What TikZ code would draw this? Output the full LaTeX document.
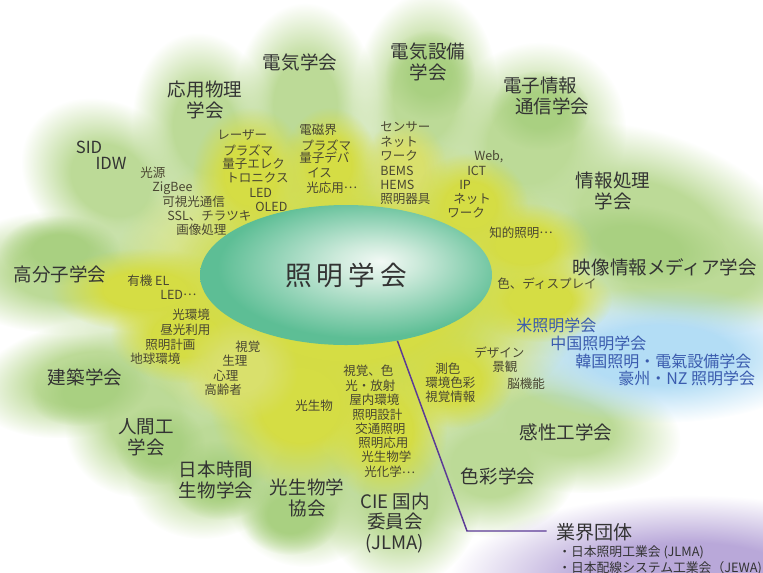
\documentclass[tikz,border=0pt]{standalone}
\usepackage{fontspec}
\setmainfont{Noto Sans CJK JP}
\usetikzlibrary{shapes.geometric,fadings}
\definecolor{cgreen}{HTML}{BCDA97}
\definecolor{cgreenb}{HTML}{A9D081}
\definecolor{cyellow}{HTML}{D5DD44}
\definecolor{cyellowb}{HTML}{D9E06C}
\definecolor{cbluebg}{HTML}{B3DDF5}
\definecolor{cpurplebg}{HTML}{B9A8D9}
\definecolor{cmain}{HTML}{333333}
\definecolor{csmall}{HTML}{4A4732}
\definecolor{cbluetext}{HTML}{3A5BAE}
\definecolor{cpline}{HTML}{5B3A96}
\definecolor{ellA}{HTML}{F2F9F5}
\definecolor{ellB}{HTML}{CDEADB}
\definecolor{ellC}{HTML}{5DBE95}
\pgfdeclareradialshading{blobfadesh}{\pgfpointorigin}{color(0bp)=(white); color(11bp)=(white); color(25bp)=(black); color(50bp)=(black)}
\pgfdeclarefading{blobfade}{\pgfuseshading{blobfadesh}}
\pgfdeclareradialshading{ellsh}{\pgfpoint{6bp}{5bp}}{color(0bp)=(ellA); color(7bp)=(ellB); color(25bp)=(ellC); color(50bp)=(ellC)}
\newcommand\blob[6]{%
  \begin{scope}[transform canvas={shift={(#1,#2)},rotate=#5}]
    \fill[#6, path fading=blobfade] (0,0) ellipse ({#3} and {#4});
  \end{scope}}
\newcommand\smlab[4]{\node[sml] (#1) at (#2,#3) {#4};}
\newcommand\mdots{\raisebox{0.3em}{…}}
\tikzset{
  big/.style={font=\fontsize{13.9}{15.5}\selectfont, text=cmain, align=center, inner sep=0pt},
  sml/.style={font=\fontsize{9.4}{11}\selectfont, text=csmall, anchor=west, inner sep=0pt},
  blu/.style={font=\fontsize{12}{14}\selectfont, text=cbluetext, anchor=west, inner sep=0pt},
  conn/.style={draw=cpline, line width=1.1pt},
}
\begin{document}
\begin{tikzpicture}[x=0.75pt,y=-0.75pt]
\useasboundingbox (0,0) rectangle (763,572);
% ---- background petals
\blob{350}{295}{270}{200}{0}{cgreen}
\blob{110}{180}{95}{75}{-35}{cgreen}
\blob{205}{130}{72}{98}{10}{cgreen}
\blob{305}{105}{72}{102}{0}{cgreen}
\blob{425}{95}{72}{104}{-5}{cgreen}
\blob{530}{140}{92}{102}{-40}{cgreen}
\blob{650}{225}{165}{92}{-20}{cgreen}
\blob{690}{275}{145}{62}{0}{cgreen}
\blob{560}{425}{122}{66}{-10}{cgreen}
\blob{490}{465}{88}{72}{0}{cgreen}
\blob{400}{495}{82}{92}{0}{cgreen}
\blob{305}{485}{82}{82}{0}{cgreen}
\blob{215}{460}{92}{76}{25}{cgreen}
\blob{145}{420}{82}{76}{30}{cgreen}
\blob{85}{378}{112}{58}{10}{cgreen}
\blob{65}{272}{122}{62}{0}{cgreen}
% darker green spots
\blob{90}{390}{60}{35}{10}{cgreenb}
\blob{640}{245}{90}{40}{-10}{cgreenb}
\blob{160}{445}{45}{40}{0}{cgreenb}
\blob{430}{75}{45}{45}{0}{cgreenb}
\blob{290}{515}{50}{40}{0}{cgreenb}
\blob{60}{250}{60}{35}{0}{cgreenb}
\blob{540}{110}{50}{40}{0}{cgreenb}
\blob{220}{480}{50}{40}{0}{cgreenb}
% blue and purple
\blob{660}{355}{165}{68}{0}{cbluebg}
\blob{690}{580}{240}{85}{0}{cpurplebg}
% ---- yellow
\blob{346}{290}{240}{160}{0}{cyellow}
\blob{250}{175}{58}{68}{0}{cyellow}
\blob{330}{165}{48}{58}{0}{cyellow}
\blob{405}{170}{42}{52}{0}{cyellowb}
\blob{470}{205}{58}{52}{0}{cyellow}
\blob{525}{245}{68}{42}{0}{cyellow}
\blob{145}{290}{95}{42}{0}{cyellow}
\blob{185}{335}{75}{48}{0}{cyellow}
\blob{300}{405}{90}{85}{0}{cyellow}
\blob{385}{430}{62}{72}{0}{cyellow}
\blob{455}{380}{58}{48}{0}{cyellow}
\blob{540}{300}{72}{42}{0}{cyellow}
\blob{240}{370}{58}{52}{0}{cyellowb}
% ---- central ellipse
\node[ellipse, minimum width=219pt, minimum height=105pt, inner sep=0pt, shade, shading=ellsh,
      font=\fontsize{20}{24}\selectfont, text=cmain] (ell) at (346,275)
      {照\hspace{3.8pt}明\hspace{3.8pt}学\hspace{3.8pt}会};
% ---- main labels
\node[big] (denki) at (300,62) {電気学会};
\node[big] (oyo) at (205,100) {応用物理\\学会};
\node[big] (setsubi) at (428,62) {電気設備\\学会};
\node[big, anchor=west, align=left] (denshi) at (503,96) {電子情報\\\hspace*{9pt}通信学会};
\node[big] (joho) at (613,191) {情報処理\\学会};
\node[big] (eizo) at (665,267) {映像情報メディア学会};
\node[big] (kobunshi) at (60,274) {高分子学会};
\node[big] (kenchiku) at (85,377) {建築学会};
\node[big] (ningen) at (146,437) {人間工\\学会};
\node[big] (jikan) at (216,480) {日本時間\\生物学会};
\node[big] (kobutsu) at (307,498) {光生物学\\協会};
\node[big] (cie) at (395,523) {CIE 国内\\委員会\\(JLMA)};
\node[big] (kansei) at (566,432) {感性工学会};
\node[big] (shikisai) at (498,476) {色彩学会};
\node[big, font=\fontsize{12.5}{14}\selectfont] (sid) at (89,147) {SID};
\node[big, font=\fontsize{12.5}{14}\selectfont] (idw) at (111,163) {IDW};
% ---- blue labels
\node[blu] (us) at (516,325) {米照明学会};
\node[blu] (cn) at (550,343) {中国照明学会};
\node[blu] (kr) at (575,361) {韓国照明・電氣設備学会};
\node[blu] (au) at (618,378) {豪州・NZ 照明学会};
% ---- industry
\node[font=\fontsize{14.3}{16}\selectfont, text=cmain, anchor=west, inner sep=0pt] (gyokai) at (556,532) {業界団体};
\node[font=\fontsize{9.6}{11}\selectfont, text=cmain, anchor=west, inner sep=0pt] (jlma) at (558,552) {・日本照明工業会 (JLMA)};
\node[font=\fontsize{9.6}{11}\selectfont, text=cmain, anchor=west, inner sep=0pt] (jewa) at (558,568) {・日本配線システム工業会（JEWA)};
\coordinate (bend) at (467,531);
\draw[conn] (ell.-52) -- (bend) -- ([xshift=-7pt]bend -| gyokai.west);
% ---- small labels
\smlab{la}{217}{135}{レーザー}
\smlab{lb}{223}{150}{プラズマ}
\smlab{lc}{222}{164}{量子エレク}
\smlab{ld}{226}{178}{トロニクス}
\smlab{le}{249}{193}{LED}
\smlab{lf}{255}{207}{OLED}
\smlab{ma}{299}{130}{電磁界}
\smlab{mb}{301}{145}{プラズマ}
\smlab{mc}{299}{158}{量子デバ}
\smlab{md}{307}{173}{イス}
\smlab{me}{306}{188}{光応用\mdots}
\smlab{na}{380}{127}{センサー}
\smlab{nb}{380}{142}{ネット}
\smlab{nc}{380}{156}{ワーク}
\smlab{nd}{380}{171}{BEMS}
\smlab{ne}{380}{185}{HEMS}
\smlab{nf}{380}{199}{照明器具}
\smlab{wa}{474}{157}{Web,}
\smlab{wb}{467}{171}{ICT}
\smlab{wc}{459}{185}{IP}
\smlab{wd}{453}{199}{ネット}
\smlab{we}{447}{213}{ワーク}
\smlab{chi}{489}{233}{知的照明\mdots}
\smlab{sa}{140}{173}{光源}
\smlab{sb}{152}{188}{ZigBee}
\smlab{sc}{162}{202}{可視光通信}
\smlab{sd}{167}{216}{SSL、チラツキ}
\smlab{se}{176}{230}{画像処理}
\smlab{ya}{127}{281}{有機 EL}
\smlab{yb}{160}{295}{LED\mdots}
\smlab{ka}{172}{315}{光環境}
\smlab{kb}{160}{330}{昼光利用}
\smlab{kc}{145}{345}{照明計画}
\smlab{kd}{130}{359}{地球環境}
\smlab{ha}{235}{347}{視覚}
\smlab{hb}{222}{361}{生理}
\smlab{hc}{213}{376}{心理}
\smlab{hd}{204}{390}{高齢者}
\smlab{kbt}{295}{406}{光生物}
\smlab{ca}{343}{371}{視覚、色}
\smlab{cb}{345}{386}{光・放射}
\smlab{cc}{349}{400}{屋内環境}
\smlab{cd}{352}{415}{照明設計}
\smlab{ce}{355}{429}{交通照明}
\smlab{cf}{358}{443}{照明応用}
\smlab{cg}{361}{457}{光生物学}
\smlab{ch}{364}{472}{光化学\mdots}
\smlab{ta}{435}{369}{測色}
\smlab{tb}{425}{383}{環境色彩}
\smlab{tc}{425}{397}{視覚情報}
\smlab{da}{474}{353}{デザイン}
\smlab{db}{492}{367}{景観}
\smlab{dc}{507}{384}{脳機能}
\smlab{iro}{497}{284}{色、ディスプレイ}
\end{tikzpicture}
\end{document}
